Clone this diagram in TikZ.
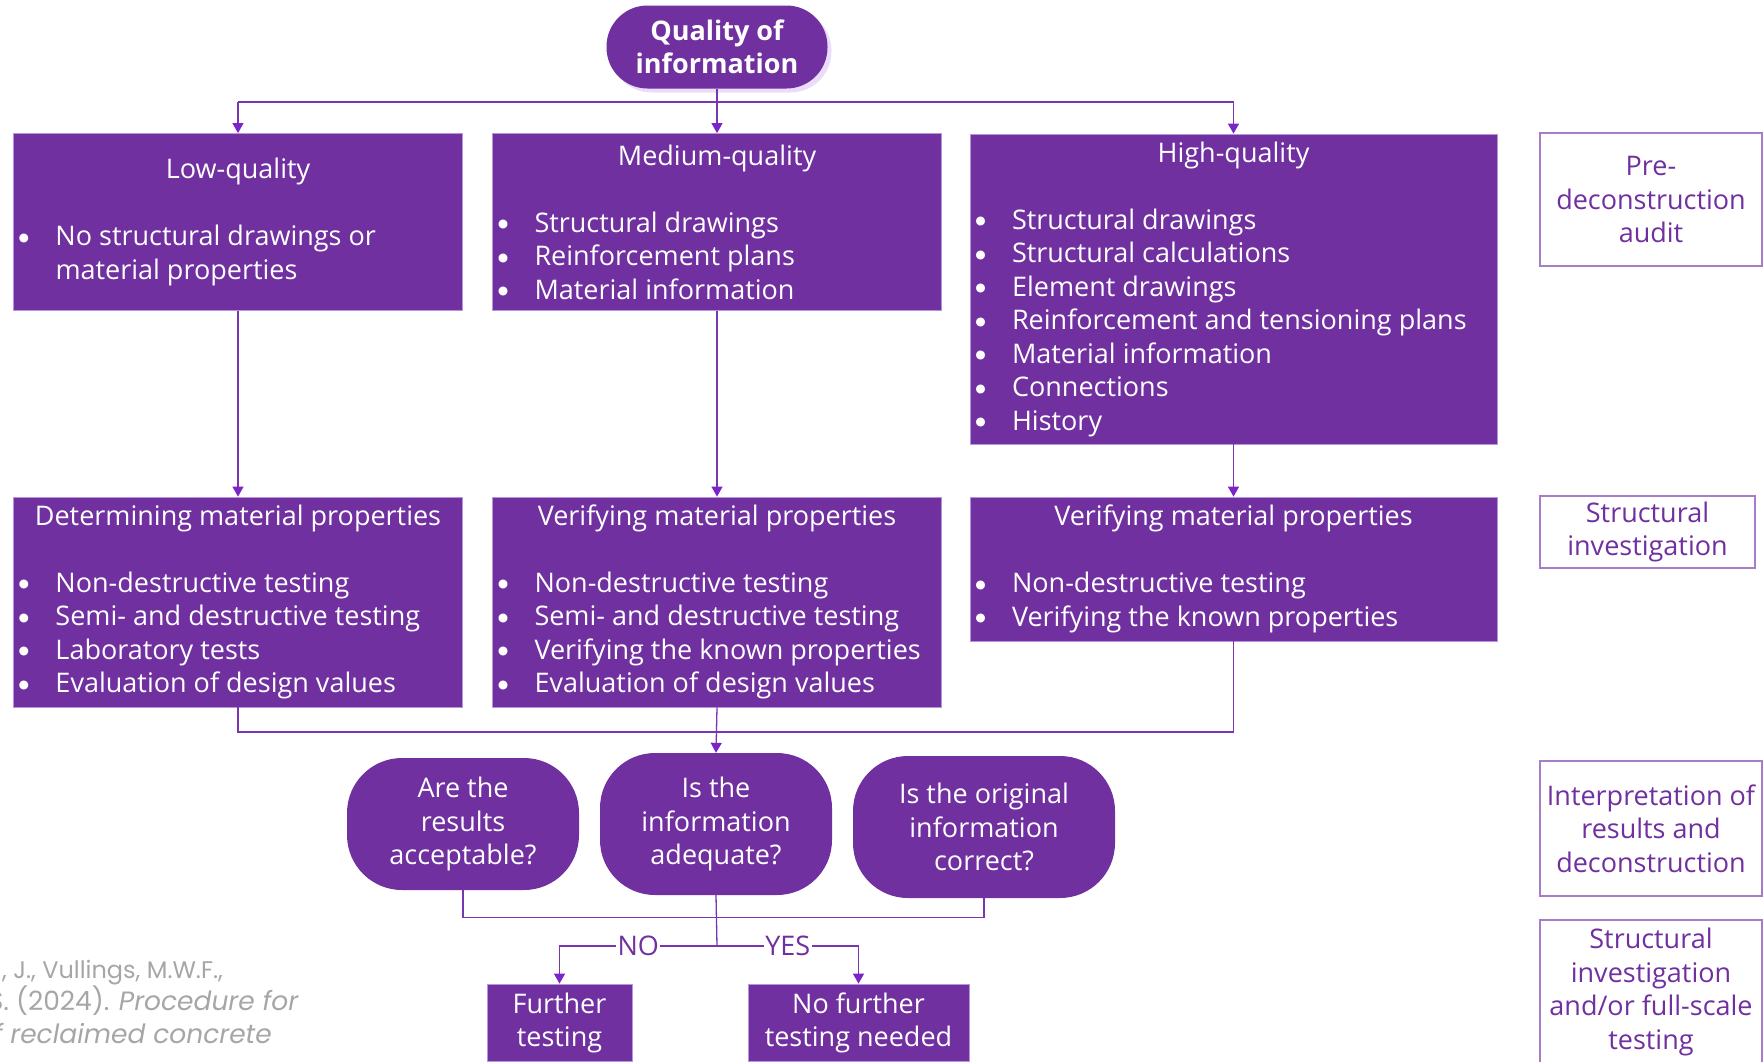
\documentclass[tikz,border=0pt]{standalone}
\usepackage{fontspec}
\setmainfont{Open Sans}
\newfontfamily\citefont{Poppins}
\usetikzlibrary{arrows.meta,shadows}
\definecolor{purp}{HTML}{7030A0}
\definecolor{edgeC}{HTML}{B794DB}
\definecolor{lineC}{HTML}{7A35B0}
\definecolor{tipC}{HTML}{7B25C8}
\definecolor{shadowC}{HTML}{EBDDF9}
\definecolor{citeC}{HTML}{A6A6A6}
\definecolor{labC}{HTML}{A57DC9}
\newcommand{\bdot}{\makebox[36pt][l]{\setlength{\unitlength}{1pt}\begin{picture}(10,0)\put(4.5,7.5){\circle*{9}}\end{picture}}}
\newcommand{\bitem}[1]{\par\noindent\hangindent=36pt\hangafter=1\bdot#1}
\newcommand{\boxtext}[3]{\begin{minipage}{#1pt}\centering #2\par\vspace{\baselineskip}\raggedright #3\end{minipage}}
\tikzset{
  mainfont/.style={font=\fontsize{27}{33.5}\selectfont},
  pbox/.style={rectangle, fill=purp, draw=edgeC, line width=0.8pt, text=white, inner sep=0pt, mainfont},
  qbox/.style={rectangle, rounded corners=55pt, fill=purp, draw=none, text=white, align=center, inner sep=0pt, mainfont},
  labbox/.style={rectangle, draw=labC, line width=1.3pt, fill=white, text=purp, align=center, inner sep=0pt, mainfont},
  ln/.style={draw=lineC, line width=1.3pt},
  arr/.style={draw=lineC, line width=1.3pt, -{Triangle[length=10pt,width=11pt,color=tipC]}},
  yn/.style={fill=white, text=purp, inner sep=1.5pt, mainfont},
  cite/.style={text=citeC, inner sep=0pt, font=\citefont\fontsize{26.5}{32}\selectfont},
}
\begin{document}
\begin{tikzpicture}[x=1pt,y=-1pt]
\useasboundingbox (0,0) rectangle (1763,1061);
\clip (0,0) rectangle (1763,1061);

% top pill
\node[rectangle, rounded corners=41pt, fill=purp, text=white, align=center,
      minimum width=221pt, minimum height=83pt, inner sep=0pt,
      font=\fontsize{27}{33}\selectfont\bfseries,
      drop shadow={fill=shadowC, opacity=1, shadow xshift=4pt, shadow yshift=-4pt}]
  (pill) at (717,47) {Quality of\\information};

% row 1
\node[pbox, minimum width=449pt, minimum height=177pt] (low) at (238,222)
  {\boxtext{437}{Low-quality}{\bitem{No structural drawings or\newline material properties}}};
\node[pbox, minimum width=449pt, minimum height=177pt] (med) at (717,222)
  {\boxtext{437}{Medium-quality}{\bitem{Structural drawings}\bitem{Reinforcement plans}\bitem{Material information}}};
\node[pbox, minimum width=527pt, minimum height=310pt] (high) at (1233.5,289)
  {\boxtext{515}{High-quality}{\bitem{Structural drawings}\bitem{Structural calculations}\bitem{Element drawings}\bitem{Reinforcement and tensioning plans}\bitem{Material information}\bitem{Connections}\bitem{History}}};

% row 2
\node[pbox, minimum width=449pt, minimum height=210pt] (low2) at (238,602)
  {\boxtext{437}{Determining material properties}{\bitem{Non-destructive testing}\bitem{Semi- and destructive testing}\bitem{Laboratory tests}\bitem{Evaluation of design values}}};
\node[pbox, minimum width=449pt, minimum height=210pt] (med2) at (717,602)
  {\boxtext{437}{Verifying material properties}{\bitem{Non-destructive testing}\bitem{Semi- and destructive testing}\bitem{Verifying the known properties}\bitem{Evaluation of design values}}};
\node[pbox, minimum width=527pt, minimum height=144pt] (high2) at (1233.5,569)
  {\boxtext{515}{Verifying material properties}{\bitem{Non-destructive testing}\bitem{Verifying the known properties}}};

% questions
\node[qbox, minimum width=232pt, minimum height=132pt] (q1) at (463,824) {Are the\\results\\acceptable?};
\node[qbox, minimum width=232pt, minimum height=142pt] (q2) at (716,824) {Is the\\information\\adequate?};
\node[qbox, minimum width=262pt, minimum height=142pt] (q3) at (984,827) {Is the original\\information\\correct?};

% outcomes
\node[pbox, align=center, minimum width=145pt, minimum height=77pt, font=\fontsize{27}{33}\selectfont] (ft) at (559.5,1022.5) {Further\\testing};
\node[pbox, align=center, minimum width=221pt, minimum height=77pt, font=\fontsize{27}{33}\selectfont] (nf) at (858.5,1022.5) {No further\\testing needed};

% phase labels
\node[labbox, minimum width=222pt, minimum height=133pt] (lab1) at (1651,199.5) {Pre-\\deconstruction\\audit};
\node[labbox, minimum width=215pt, minimum height=72pt] (lab2) at (1647.5,532) {Structural\\investigation};
\node[labbox, minimum width=222pt, minimum height=135pt] (lab3) at (1651,828.5) {Interpretation of\\results and\\deconstruction};
\node[labbox, minimum width=222pt, minimum height=144pt] (lab4) at (1651,992) {Structural\\investigation\\and/or full-scale\\testing};

% connectors
\coordinate (hb) at (717,102);
\draw[ln] (low.north |- hb) -- (high.north |- hb);
\draw[arr] (pill.south) -- (med.north);
\draw[arr] (low.north |- hb) -- (low.north);
\draw[arr] (high.north |- hb) -- (high.north);
\draw[arr] (low.south) -- (low2.north);
\draw[arr] (med.south) -- (med2.north);
\draw[arr] (high.south) -- (high2.north);
\coordinate (mb) at (717,732);
\draw[ln] (low2.south) |- (mb) -| (high2.south);
\draw[arr] (med2.south) -- (q2.north);
\coordinate (qb) at (717,917.5);
\draw[ln] (q1.south) |- (qb) -| (q3.south);
\coordinate (yb) at (717,946);
\draw[ln] (q2.south) -- (yb);
\draw[arr] (yb) -| node[pos=0.25, yn] (no) {NO} (ft.north);
\draw[arr] (yb) -| node[pos=0.25, yn] (yes) {YES} (nf.north);

% citation (cropped at the left edge, as in the reference)
\node[cite, anchor=base west, font=\citefont\fontsize{24}{32}\selectfont] (c1) at (2,978) {, J., Vullings, M.W.F.,};
\node[cite, anchor=base east] (c2) at (299,1010) {S. (2024). \textit{Procedure for}};
\node[cite, anchor=base east] (c3) at (272,1043) {\textit{f reclaimed concrete}};
\end{tikzpicture}
\end{document}
